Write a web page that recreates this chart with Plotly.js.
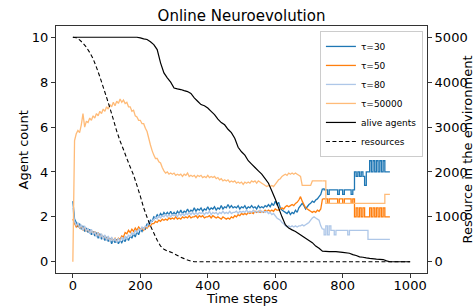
<!DOCTYPE html>
<html><head><meta charset="utf-8">
<script src="https://cdn.plot.ly/plotly-3.0.1.min.js"></script>
<style>html,body{margin:0;padding:0;background:#fff}#chart{width:473px;height:307px}</style>
</head><body><div id="chart"></div>
<script>
// sampling step of the agent-count series (time steps)
const STEP = 5;
// index (t = 740) where the noisy phase ends and the stepped phase starts
const SPLIT = 148;

// tau = 30 (dark blue), t = 0..940 every 5 steps
const tau30 = [2.7,1.9,1.75,1.55,1.7,1.45,1.6,1.35,1.5,1.3,
1.45,1.2,1.35,1.15,1.3,1.05,1.25,1.0,1.15,0.95,
1.1,0.9,1.05,0.8,1.0,0.85,1.0,0.8,0.95,0.85,
1.0,0.9,1.1,0.95,1.15,1.05,1.25,1.1,1.35,1.2,
1.45,1.35,1.5,1.45,1.7,1.6,1.85,1.8,2.0,1.95,
2.1,2.0,2.15,2.05,2.2,2.1,2.2,2.1,2.25,2.1,
2.2,2.1,2.25,2.15,2.3,2.15,2.25,2.2,2.35,2.2,
2.3,2.25,2.4,2.25,2.35,2.3,2.4,2.25,2.35,2.3,
2.45,2.3,2.4,2.35,2.45,2.3,2.4,2.35,2.5,2.35,
2.45,2.4,2.55,2.4,2.5,2.4,2.45,2.4,2.5,2.35,
2.45,2.4,2.5,2.35,2.45,2.4,2.5,2.4,2.45,2.35,
2.5,2.4,2.45,2.4,2.5,2.45,2.55,2.45,2.6,2.5,
2.7,2.55,2.65,2.4,2.3,2.25,2.2,2.15,2.25,2.1,
2.2,2.15,2.3,2.2,2.4,2.5,2.6,2.5,2.35,2.45,
2.55,2.6,2.7,2.65,2.75,2.8,2.9,3.0,3.25,
3.2,3.2,3.0,3.2,3.2,3.2,3.2,3.2,3.0,3.2,
3.2,3.0,3.2,3.2,3.2,3.2,3.0,3.2,4.0,3.8,
4.0,3.8,4.0,3.8,3.4,4.0,4.0,4.5,4.0,4.5,
4.0,4.5,4.0,4.5,4.0,4.5,4.0,4.0,4.0,4.0];

// tau = 50 (orange)
const tau50 = [1.9,1.7,1.55,1.65,1.5,1.6,1.4,1.55,1.35,1.45,
1.3,1.4,1.25,1.35,1.15,1.3,1.1,1.2,1.05,1.15,
1.0,1.1,0.95,1.05,0.95,1.05,0.9,1.05,1.0,1.15,
1.1,1.3,1.25,1.4,1.3,1.45,1.35,1.5,1.4,1.55,
1.45,1.5,1.4,1.55,1.5,1.6,1.6,1.7,1.7,1.8,
1.75,1.85,1.8,1.9,1.85,1.9,1.85,1.95,1.9,1.95,
1.9,2.0,1.9,1.95,1.9,2.0,1.95,2.0,1.95,2.05,
1.95,2.0,2.0,2.05,1.95,2.05,2.0,2.05,1.95,2.0,
2.0,2.05,1.95,2.05,2.0,1.95,2.0,1.95,1.9,2.0,
1.95,1.9,1.95,1.9,2.0,1.95,2.05,2.0,2.1,2.05,
2.15,2.1,2.15,2.1,2.2,2.15,2.2,2.15,2.25,2.2,
2.25,2.2,2.25,2.2,2.3,2.25,2.3,2.25,2.3,2.25,
2.35,2.3,2.3,2.35,2.4,2.35,2.45,2.5,2.45,2.5,
2.55,2.5,2.6,2.65,2.75,2.9,2.7,2.55,2.4,2.35,
2.3,2.25,2.2,2.25,2.2,2.3,2.25,2.35,2.8,
2.8,2.8,2.6,2.8,2.8,2.8,2.8,2.8,2.6,2.8,
2.8,2.6,2.8,2.8,2.8,2.8,2.6,2.8,2.0,2.4,
2.0,2.4,2.0,2.4,2.0,2.0,2.0,2.4,2.0,2.4,
2.0,2.4,2.0,2.4,2.0,2.4,2.0,2.0,2.0,2.0];

// tau = 80 (light blue)
const tau80 = [2.4,1.8,1.6,1.75,1.5,1.65,1.4,1.6,1.35,1.5,
1.25,1.45,1.2,1.35,1.1,1.3,1.05,1.25,1.0,1.2,
0.95,1.15,0.9,1.1,0.9,1.05,0.85,1.05,0.9,1.1,
0.95,1.15,1.0,1.2,1.1,1.3,1.2,1.4,1.3,1.45,
1.4,1.55,1.45,1.6,1.55,1.75,1.7,1.85,1.85,2.0,
1.9,2.05,1.95,2.05,2.0,2.1,2.0,2.1,2.0,2.1,
2.05,2.1,2.0,2.15,2.05,2.15,2.05,2.15,2.1,2.2,
2.1,2.2,2.1,2.2,2.1,2.2,2.15,2.2,2.1,2.2,
2.15,2.25,2.1,2.2,2.15,2.2,2.1,2.2,2.15,2.25,
2.15,2.2,2.15,2.25,2.15,2.2,2.2,2.25,2.15,2.25,
2.2,2.25,2.2,2.3,2.2,2.25,2.2,2.3,2.2,2.25,
2.2,2.3,2.2,2.25,2.2,2.25,2.15,2.2,2.1,2.15,
2.05,1.95,1.9,1.85,1.75,1.7,1.6,1.55,1.6,1.55,
1.6,1.55,1.6,1.55,1.6,1.6,1.65,1.6,1.65,1.7,
1.75,1.85,1.95,2.0,1.95,1.9,1.85,1.6,1.45,
1.2,1.6,1.2,1.6,1.4,1.4,1.2,1.4,1.4,1.4,
1.4,1.4,1.4,1.4,1.2,1.4,1.4,1.4,1.4,1.4,
1.4,1.4,1.4,1.4,1.4,1.4,1.0,1.0,1.0,1.0,
1.0,1.0,1.0,1.0,1.0,1.0,1.0,1.0,1.0,1.0];

// tau = 50000 (light orange)
const tau50000 = [0.0,5.4,5.7,5.85,5.75,6.1,6.6,6.0,6.25,6.2,
6.4,6.3,6.5,6.4,6.6,6.5,6.7,6.6,6.8,6.7,
6.9,6.8,7.0,6.9,7.1,6.95,7.15,7.05,7.25,7.1,
7.2,7.05,7.1,6.9,6.9,6.7,6.75,6.5,6.45,6.3,
6.3,6.15,6.15,5.95,5.8,5.5,5.2,4.95,4.75,4.6,
4.6,4.45,4.4,4.2,4.05,3.95,4.0,3.9,3.95,3.9,
3.95,3.85,3.9,3.85,3.9,3.8,3.9,3.85,3.95,3.8,
3.85,3.8,3.85,3.75,3.85,3.8,3.85,3.75,3.8,3.75,
3.85,3.75,3.8,3.75,3.8,3.7,3.75,3.65,3.7,3.6,
3.65,3.6,3.65,3.55,3.6,3.55,3.6,3.5,3.55,3.5,
3.55,3.45,3.55,3.5,3.55,3.5,3.6,3.55,3.6,3.5,
3.6,3.55,3.5,3.45,3.4,3.35,3.4,3.35,3.4,3.35,
3.45,3.55,3.65,3.7,3.8,3.85,3.9,3.85,3.95,3.9,
3.95,3.9,3.95,3.9,3.85,3.8,3.4,3.4,3.4,3.4,
3.4,3.4,3.6,3.6,3.6,3.6,3.6,3.6,3.6,
3.6,2.6,2.6,2.6,2.6,2.6,2.6,2.6,2.6,2.6,
2.6,2.6,2.6,2.6,2.6,2.6,2.6,2.6,2.6,2.6,
2.6,2.6,2.6,2.6,2.6,2.6,2.6,2.6,2.6,2.6,
2.6,2.6,2.6,2.6,2.6,2.6,3.0,3.0,3.0,3.0];

// alive agents (left axis)
const aliveT = [0,190,200,210,220,230,240,250,260,270,280,290,300,310,320,330,340,350,360,370,380,390,400,410,420,430,440,450,460,470,480,490,500,510,520,530,540,550,560,570,580,590,600,610,620,630,640,650,660,670,680,690,700,710,720,730,740,760,780,800,820,830,840,850,860,870,880,900,920,930,940,1000];
const alive  = [10,10,9.97,9.93,9.9,9.8,9.67,9.45,8.86,8.41,8.19,8.0,7.74,7.7,7.67,7.62,7.58,7.5,7.3,7.15,7.0,6.95,6.85,6.7,6.55,6.35,6.2,6.1,5.9,5.75,5.5,5.1,4.9,4.75,4.5,4.35,4.2,4.05,3.9,3.7,3.5,3.15,2.8,2.4,2.0,1.65,1.5,1.42,1.35,1.25,1.15,1.05,0.95,0.85,0.7,0.6,0.47,0.45,0.45,0.42,0.38,0.32,0.28,0.22,0.2,0.17,0.15,0.12,0.1,0.04,0.0,0.0];

// resources (right axis)
const resT = [0,10,20,30,40,50,60,70,80,90,100,110,120,130,140,150,160,170,180,190,200,210,220,230,240,250,260,270,280,290,300,310,320,330,340,350,360,1000];
const res  = [5000,4990,4940,4870,4780,4660,4520,4330,4120,3890,3660,3420,3170,2910,2690,2500,2300,2110,1930,1700,1460,1200,990,800,640,480,350,280,240,215,180,140,100,70,40,15,0,0];

const timeOf = arr => arr.map((_, i) => i * STEP);

const series = [
  {name:'τ=30', y:tau30, color:'#1f77b4'},
  {name:'τ=50', y:tau50, color:'#ff7f0e'},
  {name:'τ=80', y:tau80, color:'#aec7e8'},
  {name:'τ=50000', y:tau50000, color:'#ffbb78'}
];

const traces = [];
series.forEach((s, k) => {
  const t = timeOf(s.y);
  traces.push({type:'scatter', mode:'lines', name:s.name, legendgroup:'g'+k, legendrank:k+1,
    x:t.slice(0, SPLIT + 1), y:s.y.slice(0, SPLIT + 1),
    line:{color:s.color, width:1.3, simplify:false}, yaxis:'y'});
});
series.forEach((s, k) => {
  const t = timeOf(s.y);
  traces.push({type:'scatter', mode:'lines', name:s.name, legendgroup:'g'+k, showlegend:false,
    x:t.slice(SPLIT), y:s.y.slice(SPLIT),
    line:{color:s.color, width:1.3, shape:'hv', simplify:false}, yaxis:'y'});
});
traces.push({type:'scatter', mode:'lines', name:'alive agents', legendrank:5, x:aliveT, y:alive,
  line:{color:'#000', width:1.2, simplify:false}, yaxis:'y'});
traces.push({type:'scatter', mode:'lines', name:'resources', legendrank:6, x:resT, y:res,
  line:{color:'#000', width:1.1, dash:'4px,2.5px', simplify:false}, yaxis:'y2'});

const axisCommon = {
  showgrid:false, zeroline:false, ticks:'outside', ticklen:4, tickwidth:1,
  tickcolor:'#333', showline:true, linecolor:'#333', linewidth:1,
  tickfont:{size:13, color:'#000'}, automargin:false
};

const layout = {
  width:473, height:307,
  margin:{l:56, r:46, t:26, b:34, pad:0},
  paper_bgcolor:'#fff', plot_bgcolor:'#fff',
  font:{family:'DejaVu Sans', size:13, color:'#000'},
  title:{text:'Online Neuroevolution', font:{size:15, color:'#000'}, x:0.5, xref:'paper', xanchor:'center', y:0.948, yref:'container', yanchor:'middle'},
  xaxis:Object.assign({}, axisCommon, {range:[-50,1050], tick0:0, dtick:200, mirror:true, ticklabelstandoff:-4}),
  yaxis:Object.assign({}, axisCommon, {range:[-0.5,10.5], tick0:0, dtick:2}),
  yaxis2:Object.assign({}, axisCommon, {range:[-250,5250], tick0:0, dtick:1000, overlaying:'y', side:'right'}),
  annotations:[
    {text:'Time steps', xref:'paper', yref:'paper', x:0.5, y:-0.103, xanchor:'center', yanchor:'middle', showarrow:false, font:{size:13, color:'#000'}},
    {text:'Agent count', xref:'paper', yref:'paper', x:-0.0863, y:0.5, xanchor:'center', yanchor:'middle', textangle:-90, showarrow:false, font:{size:13, color:'#000'}},
    {text:'Resource in the environment', xref:'paper', yref:'paper', x:1.1105, y:0.5, xanchor:'center', yanchor:'middle', textangle:-90, showarrow:false, font:{size:13, color:'#000'}}
  ],
  showlegend:true,
  legend:{x:0.989, xanchor:'right', y:0.98, yanchor:'top', bgcolor:'rgba(255,255,255,0.85)',
    bordercolor:'#ccc', borderwidth:1, font:{size:9, color:'#000'}, tracegroupgap:0}
};

Plotly.newPlot('chart', traces, layout, {displayModeBar:false, staticPlot:true});
</script>
</body></html>
